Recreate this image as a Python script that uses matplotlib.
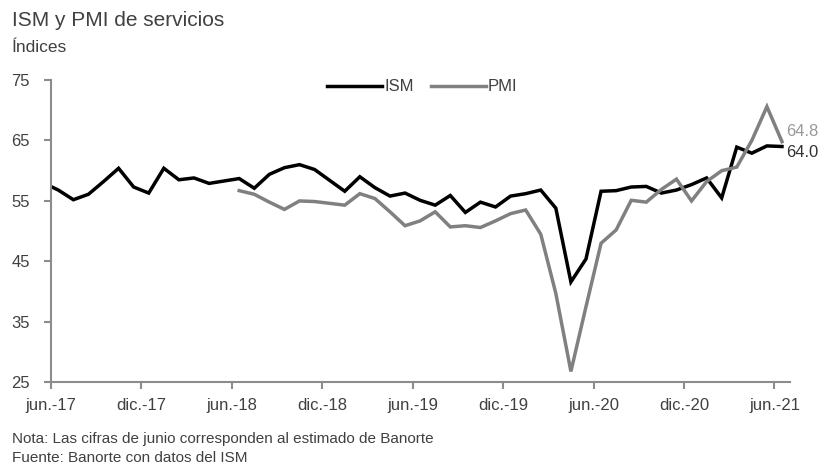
import matplotlib.pyplot as plt
import numpy as np

plt.rcParams['font.family'] = ['Liberation Sans', 'DejaVu Sans']

# monthly data, may-17 .. jun-21 (may-17 only feeds the clipped first segment)
months = ['may-17', 'jun-17', 'jul-17', 'ago-17', 'sep-17', 'oct-17', 'nov-17', 'dic-17',
          'ene-18', 'feb-18', 'mar-18', 'abr-18', 'may-18', 'jun-18', 'jul-18', 'ago-18',
          'sep-18', 'oct-18', 'nov-18', 'dic-18', 'ene-19', 'feb-19', 'mar-19', 'abr-19',
          'may-19', 'jun-19', 'jul-19', 'ago-19', 'sep-19', 'oct-19', 'nov-19', 'dic-19',
          'ene-20', 'feb-20', 'mar-20', 'abr-20', 'may-20', 'jun-20', 'jul-20', 'ago-20',
          'sep-20', 'oct-20', 'nov-20', 'dic-20', 'ene-21', 'feb-21', 'mar-21', 'abr-21',
          'may-21', 'jun-21']

ism = [58.0, 56.8, 55.2, 56.1, 58.2, 60.4, 57.3, 56.3,
       60.4, 58.5, 58.8, 57.9, 58.3, 58.7, 57.1, 59.4,
       60.5, 61.0, 60.2, 58.4, 56.6, 59.0, 57.2, 55.8,
       56.3, 55.1, 54.3, 55.9, 53.1, 54.8, 54.0, 55.8,
       56.2, 56.8, 53.8, 41.6, 45.4, 56.6, 56.7, 57.3,
       57.4, 56.3, 56.8, 57.7, 58.8, 55.5, 63.9, 62.9,
       64.1, 64.0]

pmi = [np.nan] * 13 + [
       56.7, 56.1, 54.8,
       53.6, 55.0, 54.9, 54.6, 54.3, 56.2, 55.4, 53.2,
       50.9, 51.7, 53.2, 50.7, 50.9, 50.6, 51.7, 52.9,
       53.5, 49.5, 39.7, 26.8, 37.5, 48.0, 50.2, 55.1,
       54.8, 56.9, 58.6, 55.0, 58.2, 60.0, 60.6, 65.0,
       70.6, 64.8]

tick_labels = ['jun.-17', 'dic.-17', 'jun.-18', 'dic.-18', 'jun.-19',
               'dic.-19', 'jun.-20', 'dic.-20', 'jun.-21']

x = np.arange(len(months)) - 1  # jun-17 = 0

txt = '#404040'
spine = '#8c8c8c'

fig = plt.figure(figsize=(8.25, 4.66), dpi=100)
ax = fig.add_axes([0.0615, 0.1796, 0.8955, 0.6487])

ax.plot(x, ism, color='black', lw=2.5, label='ISM', solid_joinstyle='miter')
ax.plot(x, pmi, color='#808080', lw=2.5, label='PMI', solid_joinstyle='miter')

ax.set_xlim(-0.5, 48.5)
ax.set_ylim(25, 75)
ax.set_yticks([25, 35, 45, 55, 65, 75])
ax.set_xticks(np.arange(-0.5, 49, 6))
ax.set_xticklabels(tick_labels)

for s in ['top', 'right']:
    ax.spines[s].set_visible(False)
for s in ['left', 'bottom']:
    ax.spines[s].set_color(spine)
    ax.spines[s].set_linewidth(1.5)
ax.tick_params(axis='both', colors=spine, width=1.5, length=5, labelsize=12, labelcolor=txt)
ax.tick_params(axis='x', pad=6)
ax.tick_params(axis='y', pad=10)

# end labels
ax.annotate(f'{pmi[-1]:.1f}', (x[-1], pmi[-1]), xytext=(3, 7), textcoords='offset points',
            color='#999999', fontsize=12, va='center', ha='left', annotation_clip=False)
ax.annotate(f'{ism[-1]:.1f}', (x[-1], ism[-1]), xytext=(3, -4), textcoords='offset points',
            color='#333333', fontsize=12, va='center', ha='left', annotation_clip=False)

leg = ax.legend(loc='center', bbox_to_anchor=(0.503, 0.977), ncol=2, frameon=False,
                fontsize=12, handlelength=3.3, handletextpad=0.15, columnspacing=1.0)
for t in leg.get_texts():
    t.set_color(txt)

fig.text(0.0145, 0.955, 'ISM y PMI de servicios', fontsize=15, color=txt, va='center')
fig.text(0.0145, 0.897, 'Índices', fontsize=12.5, color=txt, va='center')
fig.text(0.0145, 0.058, 'Nota: Las cifras de junio corresponden al estimado de Banorte',
         fontsize=11, color=txt, va='center')
fig.text(0.0145, 0.018, 'Fuente: Banorte con datos del ISM', fontsize=11, color=txt, va='center')

fig.savefig('out.png', dpi=100)
